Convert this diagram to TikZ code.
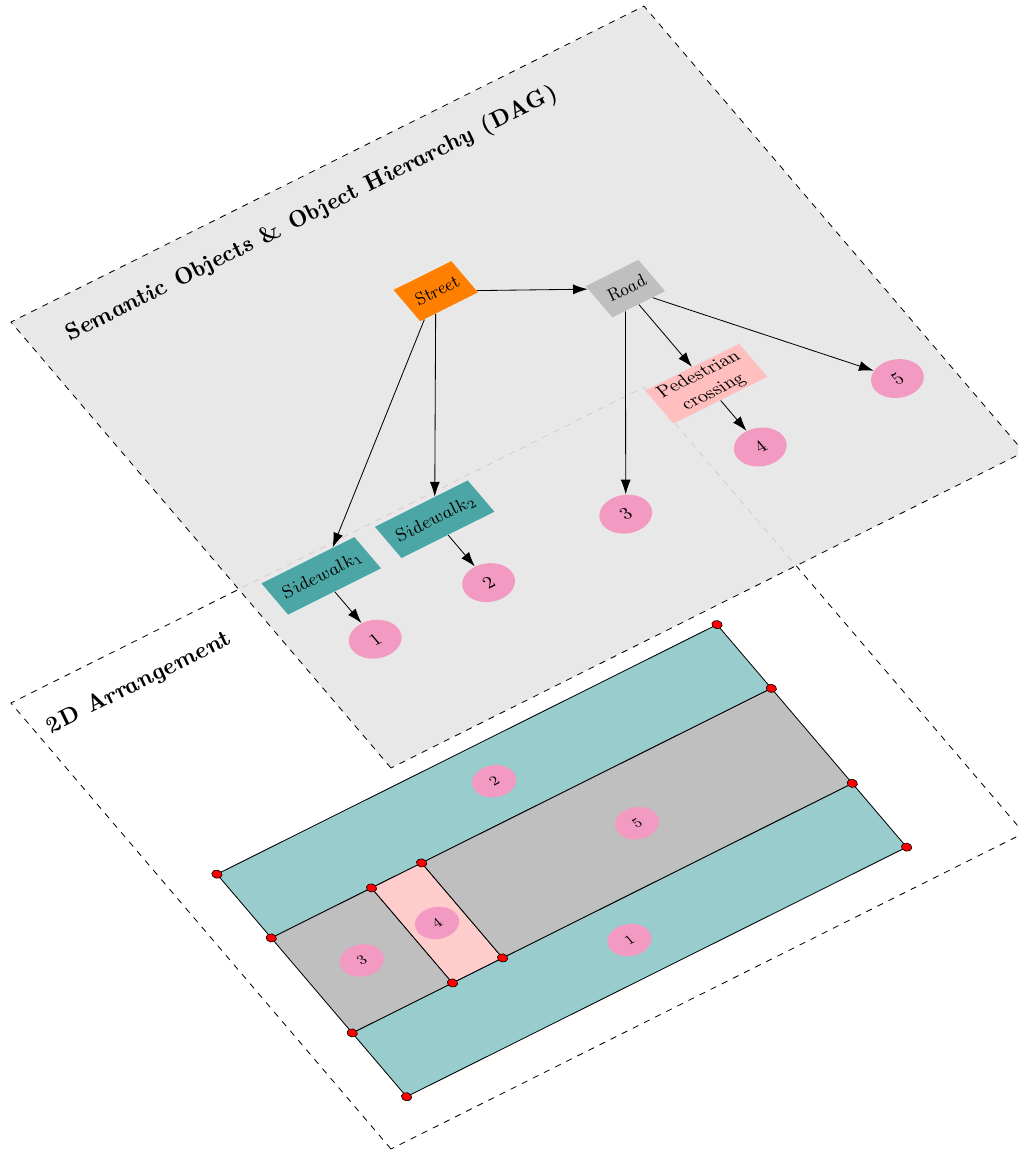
\documentclass[tikz,border=0pt]{standalone}
\usepackage{amsmath,amssymb}
\usepackage{xcolor}
\usepackage{tikz}
\usetikzlibrary{arrows.meta}
\usetikzlibrary{shapes.geometric}

\definecolor{numpink}{RGB}{243,154,194}

\tikzset{
  obj/.style={fill=#1, inner xsep=4pt, minimum height=0.7cm, font=\small},
  num/.style={ellipse, fill=numpink, minimum width=0.86cm, minimum height=0.71cm, inner sep=0pt, font=\small},
  smallnum/.style={ellipse, fill=numpink, minimum width=0.72cm, minimum height=0.59cm, inner sep=0pt, font=\scriptsize},
  part/.style={fill=#1, draw=black},
  vertex/.style={fill=red, draw=black, line width=0.3pt},
  heading/.style={anchor=base west, font=\fontsize{11.6pt}{14pt}\selectfont\bfseries\itshape},
}

\begin{document}
\begin{tikzpicture}[>={Latex[length=2.5mm,width=1.7mm]}]
  \useasboundingbox (0,0) rectangle (17.267,-19.542);
  % lower plane: 2D arrangement
  \begin{scope}[cm={0.8956,0.4470,-0.6452,0.7572,(6.638,-19.508)}, transform shape]
    \draw[dashed] (0,0) rectangle (12,10);
    \node[heading] (arr) at (0.05,9.2) {2D Arrangement};
    \draw[part=teal!40] (0.8,0.7) rectangle (10.28,2.13);
    \draw[part=teal!40] (0.8,4.26) rectangle (10.28,5.69);
    \draw[part=lightgray] (0.8,2.13) rectangle (2.7,4.26);
    \draw[part=red!20] (2.7,2.13) rectangle (3.65,4.26);
    \draw[part=lightgray] (3.65,2.13) rectangle (10.28,4.26);
    \foreach \x/\y in {0.8/0.7, 0.8/2.13, 0.8/4.26, 0.8/5.69, 10.28/0.7, 10.28/2.13,
                       10.28/4.26, 10.28/5.69, 2.7/2.13, 2.7/4.26, 3.65/2.13, 3.65/4.26}
      \filldraw[vertex] (\x,\y) circle (0.08);
    \node[smallnum] (r1) at (5.54,1.415) {1};
    \node[smallnum] (r2) at (5.54,4.975) {2};
    \node[smallnum] (r3) at (1.75,3.195) {3};
    \node[smallnum] (r4) at (3.175,3.195) {4};
    \node[smallnum] (r5) at (6.965,3.195) {5};
  \end{scope}
  % upper plane: semantic objects
  \begin{scope}[cm={0.8956,0.4470,-0.6452,0.7572,(6.638,-13.039)}, transform shape]
    \filldraw[dashed, fill=black!10, fill opacity=0.9] (0,0) rectangle (12,10);
    \node[heading] (dag) at (0.43,9.23) {Semantic Objects {\upshape\&} Object Hierarchy (DAG)};
    \node[obj=orange] (st) at (6,7.15) {\textit{Street}};
    \node[obj=lightgray] (rd) at (8.55,5.7) {\textit{Road}};
    \node[obj=teal!70] (sw1) at (1.25,3.57) {$Sidewalk_1$};
    \node[obj=teal!70] (sw2) at (3.4,3.57) {$Sidewalk_2$};
    \node[obj=pink, align=center, inner ysep=1pt] (pc) at (8.55,3.57) {Pedestrian\\crossing};
    \node[num] (n1) at (1.25,2.15) {1};
    \node[num] (n2) at (3.4,2.15) {2};
    \node[num] (n3) at (6,2.15) {3};
    \node[num] (n4) at (8.55,2.15) {4};
    \node[num] (n5) at (11.15,2.15) {5};
    \draw[->] (st) -- (rd);
    \draw[->] (st) -- (sw1);
    \draw[->] (st) -- (sw2);
    \draw[->] (rd) -- (pc);
    \draw[->] (rd) -- (n3);
    \draw[->] (rd) -- (n5);
    \draw[->] (sw1) -- (n1);
    \draw[->] (sw2) -- (n2);
    \draw[->] (pc) -- (n4);
  \end{scope}
\end{tikzpicture}
\end{document}
